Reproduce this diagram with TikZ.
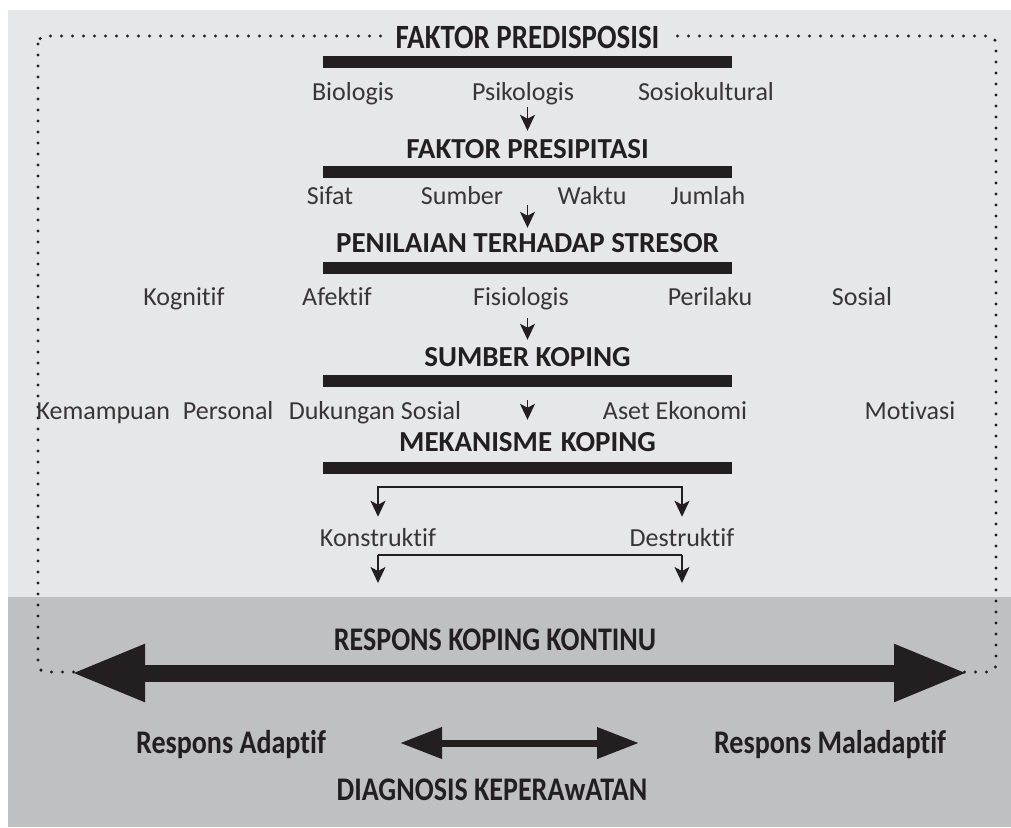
\documentclass[tikz,border=0pt]{standalone}
\usepackage{fontspec}
\setmainfont{Carlito}[Ligatures=NoCommon]
\newfontfamily\condfont[FakeStretch=0.85, Ligatures=NoCommon]{Carlito}
\usepackage{tikz}
\usetikzlibrary{positioning,arrows.meta,calc}
\usepackage{xcolor}
\definecolor{ink}{HTML}{231F20}
\definecolor{bgLight}{HTML}{E6E7E8}
\definecolor{bgDark}{HTML}{BFC0C2}

\begin{document}
\begin{tikzpicture}[x=1pt, y=-1pt,
    headText/.style={font=\fontsize{29}{29}\selectfont\bfseries, text=ink, inner sep=0pt, anchor=base},
    condText/.style={font=\condfont\fontsize{33}{33}\selectfont\bfseries, text=ink, inner sep=0pt, anchor=base},
    itemText/.style={font=\fontsize{26}{26}\selectfont, text=ink!90, inner sep=0pt, anchor=base},
    barNode/.style={fill=ink, minimum width=409pt, minimum height=12pt, inner sep=0pt},
    dotBox/.style={draw=ink, line width=3.4pt, line cap=round, dash pattern=on 0pt off 11pt, rounded corners=8pt},
    arrowStyle/.style={-{Stealth[length=16pt, width=15pt, inset=4pt]}, line width=1.8pt, draw=ink},
    bigArrow/.style={{Triangle[length=74pt, width=53pt]}-{Triangle[length=74pt, width=53pt]}, line width=17pt, draw=ink},
    smallArrow/.style={{Triangle[length=42pt, width=30pt]}-{Triangle[length=42pt, width=30pt]}, line width=7pt, draw=ink}
]
    \useasboundingbox (0,0) rectangle (1011,827);

    % Latar
    \fill[bgLight] (8,10) rectangle (1011,597);
    \fill[bgDark] (8,597) rectangle (1011,827);
    \draw[dotBox] (38,36) rectangle (996,672);

    % Faktor predisposisi
    \node[condText, fill=bgLight, inner xsep=14pt, inner ysep=4pt, font=\condfont\fontsize{34}{34}\selectfont\bfseries] (pred) at (527.5,48) {FAKTOR PREDISPOSISI};
    \node[barNode] (bar1) at (527.5,62) {};
    \node[itemText] (bio) at (353,100) {Biologis};
    \node[itemText] (psiko) at (523,100) {Psikologis};
    \node[itemText] (sosio) at (706,100) {Sosiokultural};

    % Faktor presipitasi
    \node[headText] (presip) at (527.5,158) {FAKTOR PRESIPITASI};
    \node[barNode] (bar2) at (527.5,172) {};
    \node[itemText] (sifat) at (330,204) {Sifat};
    \node[itemText] (sumberIt) at (462,204) {Sumber};
    \node[itemText] (waktu) at (592,204) {Waktu};
    \node[itemText] (jumlah) at (708,204) {Jumlah};

    % Penilaian stresor
    \node[headText] (nilai) at (527.5,252) {PENILAIAN TERHADAP STRESOR};
    \node[barNode] (bar3) at (527.5,268) {};
    \node[itemText] (kogn) at (184,305) {Kognitif};
    \node[itemText] (afek) at (337,305) {Afektif};
    \node[itemText] (fisio) at (521,305) {Fisiologis};
    \node[itemText] (peri) at (710,305) {Perilaku};
    \node[itemText] (sosial) at (862,305) {Sosial};

    % Sumber koping
    \node[headText] (sumber) at (527.5,366) {SUMBER KOPING};
    \node[barNode] (bar4) at (527.5,381) {};
    \node[itemText] (kemp) at (155,419) {Kemampuan\hspace{0.5em}Personal};
    \node[itemText] (duk) at (375,419) {Dukungan Sosial};
    \node[itemText] (aset) at (675,419) {Aset Ekonomi};
    \node[itemText] (motiv) at (910,419) {Motivasi};

    % Mekanisme koping
    \node[headText] (meka) at (527.5,451) {MEKANISME\hspace{0.3em}KOPING};
    \node[barNode] (bar5) at (527.5,468) {};
    \node[itemText] (konst) at (378,546) {Konstruktif};
    \node[itemText] (destr) at (682,546) {Destruktif};

    \draw[arrowStyle] ([yshift=-39pt]bar1.south) -- ([yshift=8pt]presip.north -| bar1.south);
    \draw[arrowStyle] ([yshift=-27pt]bar2.south) -- ([yshift=5pt]nilai.north -| bar2.south);
    \draw[arrowStyle] ([yshift=-44pt]bar3.south) -- ([yshift=7pt]sumber.north -| bar3.south);
    \draw[arrowStyle] ([yshift=-13pt]bar4.south) -- ([yshift=12pt]meka.north -| bar4.south);

    \coordinate (spL) at (378,487);
    \coordinate (spR) at (682,487);
    \draw[arrowStyle, {Stealth[length=16pt, width=15pt, inset=4pt]}-{Stealth[length=16pt, width=15pt, inset=4pt]}]
        ([yshift=11pt]konst.north) -- (spL) -- (spR) -- ([yshift=11pt]destr.north);
    \coordinate (sp2L) at (378,555);
    \coordinate (sp2R) at (682,555);
    \coordinate (outL) at (378,583);
    \coordinate (outR) at (682,583);
    \draw[line width=1.8pt, draw=ink] (sp2L) -- (sp2R);
    \draw[arrowStyle] (sp2L) -- (outL);
    \draw[arrowStyle] (sp2R) -- (outR);

    % Respons koping
    \node[condText] (kontinu) at (495,650) {RESPONS KOPING KONTINU};
    \coordinate (respL) at (71,673);
    \coordinate (respR) at (968,673);
    \draw[bigArrow] (respL) -- (respR);
    \node[condText] (adapt) at (231,753) {Respons Adaptif};
    \node[condText] (malad) at (830,753) {Respons Maladaptif};
    \coordinate (diagL) at (400,743);
    \coordinate (diagR) at (639,743);
    \draw[smallArrow] (diagL) -- (diagR);
    \node[condText] (diag) at (492,800) {DIAGNOSIS KEPERAwATAN};
\end{tikzpicture}
\end{document}
